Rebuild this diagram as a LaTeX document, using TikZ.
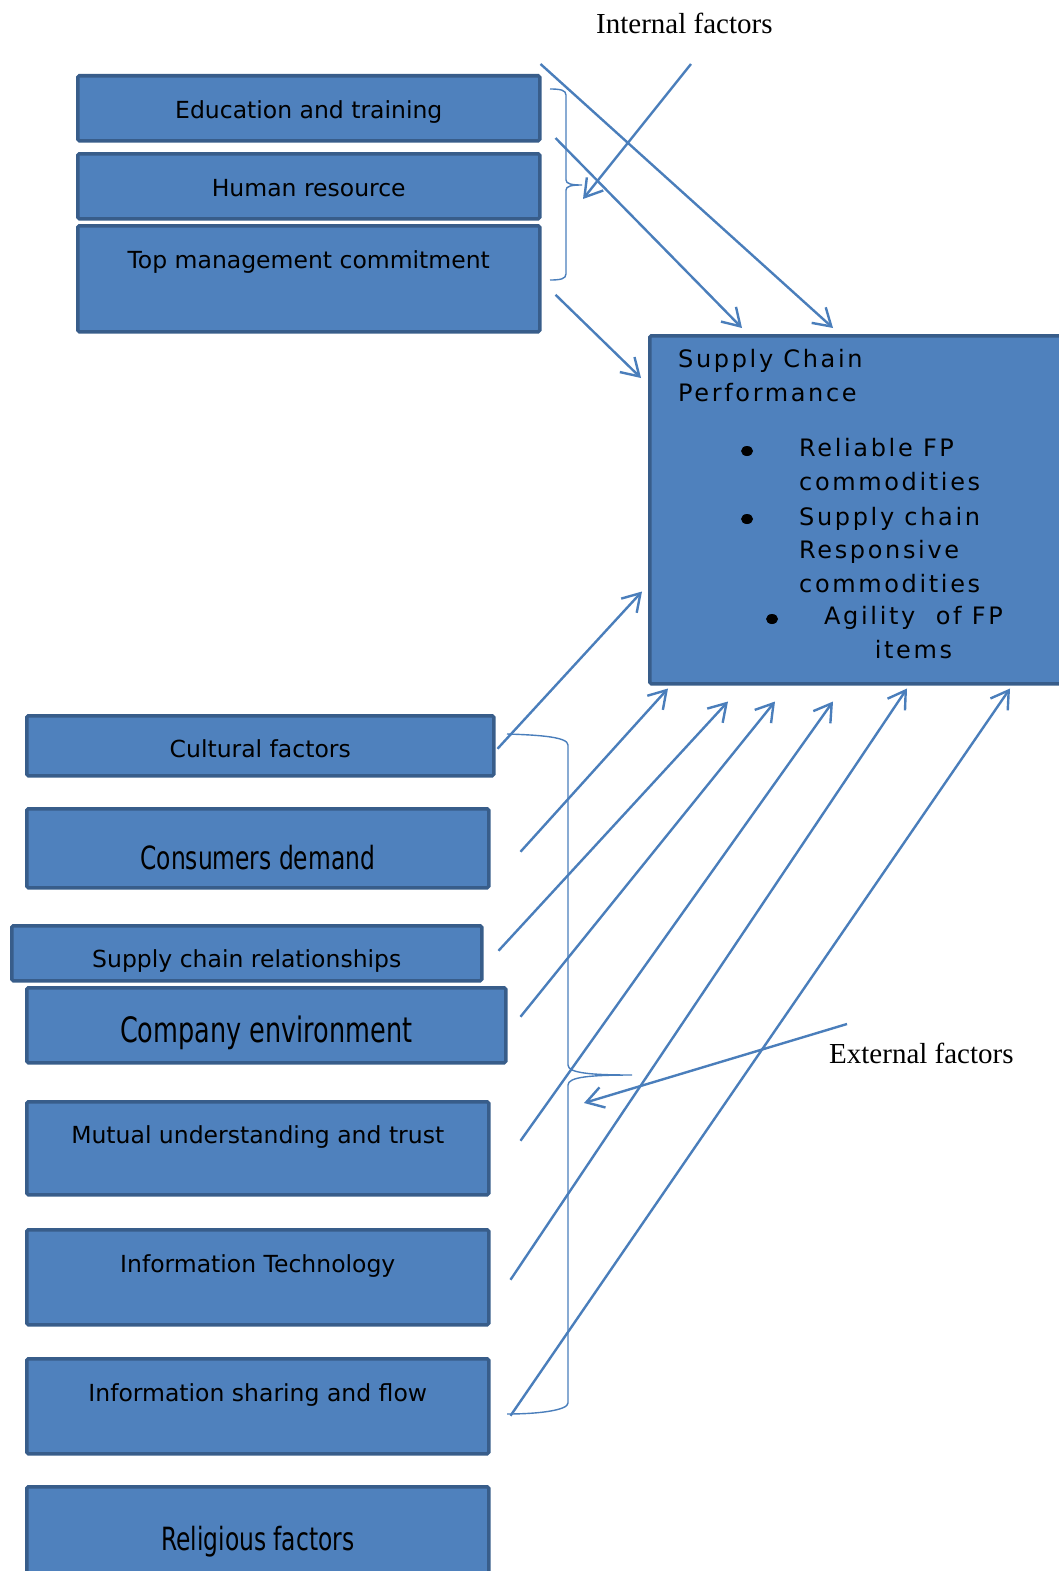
\documentclass[tikz,border=0pt]{standalone}
\usepackage{fontspec}
\usetikzlibrary{arrows.meta}
\newfontfamily\boxfont{DejaVu Sans}
\newfontfamily\narrowfont[FakeStretch=0.73]{DejaVu Sans}
\newfontfamily\scpfont[LetterSpace=11]{DejaVu Sans}
\newfontfamily\notefont{Liberation Serif}
\definecolor{boxfill}{HTML}{4F81BD}
\definecolor{boxedge}{HTML}{385D8A}
\definecolor{linkblue}{HTML}{4A7EBB}
\tikzset{
  factor/.style={draw=boxedge, fill=boxfill, line width=3.5pt, rounded corners=1.5pt,
    inner sep=0pt, anchor=north west, font=\boxfont\fontsize{23.5}{28}\selectfont},
  narrow/.style={font=\narrowfont\fontsize{#1}{#1}\selectfont},
  scptext/.style={inner sep=0pt, align=left, font=\scpfont\fontsize{24}{33.5}\selectfont},
  dot/.style={ellipse, fill=black, inner sep=0pt, minimum width=12pt, minimum height=10pt},
  link/.style={draw=linkblue, line width=2.4pt, -{Straight Barb[length=17pt,width=21pt]}},
  brace/.style={draw=linkblue, line width=1.4pt},
  note/.style={inner sep=0pt, font=\notefont\fontsize{29}{34}\selectfont}
}
\usetikzlibrary{shapes.geometric}
\begin{document}
\begin{tikzpicture}[x=1pt, y=-1pt]
  \useasboundingbox (0,0) rectangle (1058,1571);
  % internal factors
  \node[factor, minimum width=462pt, text height=43pt, text depth=22pt] (edu) at (76,74) {Education and training};
  \node[factor, minimum width=462pt, text height=43pt, text depth=22pt] (hr) at (76,152) {Human resource};
  \node[factor, minimum width=462pt, text height=43pt, text depth=63pt] (topm) at (76,224) {Top management commitment};
  % supply chain performance
  \node[factor, minimum width=420pt, minimum height=348pt] (scp) at (648,334) {};
  \node[scptext, anchor=base west] (scptitle) at (678,401) {Supply Chain\\Performance};
  \node[dot] (dot1) at (747,451) {};
  \node[scptext, anchor=base west] (reliable) at (799,490) {Reliable FP\\commodities};
  \node[dot] (dot2) at (747,519) {};
  \node[scptext, anchor=base west] (respons) at (799,592) {Supply chain\\Responsive\\commodities};
  \node[dot] (dot3) at (772,619) {};
  \node[scptext, anchor=base west, align=center] (agility) at (824,658) {Agility\ \ of FP\\items};
  % external factors
  \node[factor, minimum width=467pt, text height=42pt, text depth=18pt] (cult) at (25,714) {Cultural factors};
  \node[factor, narrow=32, minimum width=462pt, text height=61pt, text depth=18pt] (cons) at (25,807) {Consumers demand};
  \node[factor, minimum width=470pt, text height=42pt, text depth=13pt] (screl) at (10,924) {Supply chain relationships};
  \node[factor, narrow=35, minimum width=479pt, text height=55pt, text depth=20pt] (comp) at (25,986) {Company environment};
  \node[factor, minimum width=462pt, text height=42pt, text depth=51pt] (mut) at (25,1100) {Mutual understanding and trust};
  \node[factor, minimum width=462pt, text height=43pt, text depth=52pt] (it) at (25,1228) {Information Technology};
  \node[factor, minimum width=462pt, text height=43pt, text depth=52pt] (info) at (25,1357) {Information sharing and flow};
  \node[factor, narrow=32, minimum width=462pt, text height=64pt, text depth=30pt] (relig) at (25,1485) {Religious factors};
  % labels
  \node[note, anchor=base west] (intf) at (596,34) {Internal factors};
  \node[note, anchor=base west] (extf) at (829,1063) {External factors};
  \coordinate (inthead) at (583,199);
  \coordinate (exthead) at (584,1103);
  % braces
  \draw[brace] (550,89) .. controls (560,89) and (566,90) .. (566,95) -- (566,180)
    .. controls (566,184) and (572,185) .. (582,185) .. controls (572,185) and (566,186) .. (566,190)
    -- (566,274) .. controls (566,279) and (560,280) .. (550,280);
  \draw[brace] (507,734) .. controls (540,735) and (568,737) .. (568,745) -- (568,1065)
    .. controls (568,1073) and (590,1075) .. (632,1075) .. controls (590,1075) and (568,1077) .. (568,1085)
    -- (568,1403) .. controls (568,1410) and (540,1414) .. (507,1414);
  % arrows
  \draw[link] ([shift={(-1,-10)}]edu.north east) -- ([shift={(185,-6)}]scp.north west);
  \draw[link] ([shift={(14,-14)}]hr.north east) -- ([shift={(94,-6)}]scp.north west);
  \draw[link] ([shift={(14,16)}]topm.east) -- ([shift={(-7,44)}]scp.north west);
  \draw[link] ([shift={(95,30)}]intf.base west) -- (inthead);
  \draw[link] ([shift={(2,3)}]cult.east) -- ([shift={(-6,-94)}]scp.south west);
  \draw[link] ([shift={(30,3.5)}]cons.east) -- ([shift={(20,3)}]scp.south west);
  \draw[link] ([shift={(15,-2.5)}]screl.east) -- ([shift={(80,16)}]scp.south west);
  \draw[link] ([shift={(13,-8.5)}]comp.east) -- ([shift={(127,16)}]scp.south west);
  \draw[link] ([shift={(30,-7.5)}]mut.east) -- ([shift={(185,16)}]scp.south west);
  \draw[link] ([shift={(20,2.5)}]it.east) -- ([shift={(259,3)}]scp.south west);
  \draw[link] ([shift={(20,9.5)}]info.east) -- ([shift={(362,3)}]scp.south west);
  \draw[link] ([shift={(18,-39)}]extf.base west) -- (exthead);
\end{tikzpicture}
\end{document}
